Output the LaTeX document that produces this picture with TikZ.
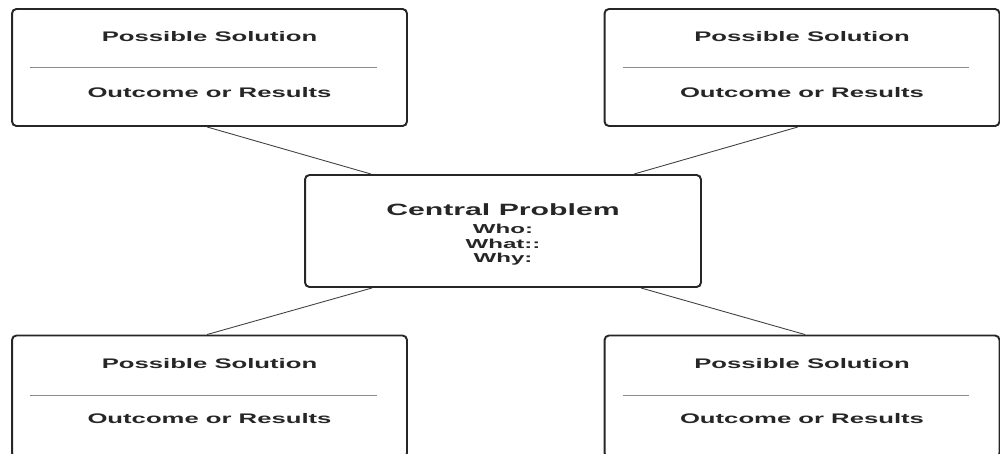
\documentclass[tikz,border=0pt]{standalone}
\usepackage{fontspec}
\setmainfont[FakeStretch=1.85]{Liberation Sans}
\usetikzlibrary{positioning}

\begin{document}
\begin{tikzpicture}[x=0.02cm,y=-0.02cm,
        solbox/.style={draw=black!85, line width=1.1pt, rounded corners=2.5pt, minimum width=7.9cm, minimum height=2.34cm, inner sep=0pt},
        lowbox/.style={solbox, minimum height=2.44cm},
        probbox/.style={solbox, minimum width=7.92cm, minimum height=2.24cm},
        probtext/.style={align=center, text=black!85, inner sep=0pt, font=\bfseries\fontsize{7.4}{8.4}\selectfont},
        boxtext/.style={text=black!85, font=\bfseries\fontsize{7.9}{9}\selectfont, inner sep=1pt},
        divider/.style={draw=black!45, line width=0.5pt},
        link/.style={draw=black!75, line width=0.5pt}]
        \useasboundingbox (0,0) rectangle (1000,453);

        % four solution boxes (the lower ones run off the page)
        \node[solbox] (box1) at (209.5,67.5) {};
        \node[solbox] (box2) at (802,67.5) {};
        \node[lowbox] (box3) at (209.5,396.5) {};
        \node[lowbox] (box4) at (802,396.5) {};

        \draw[divider] ([xshift=0.38cm]box1.west) -- ([xshift=-0.62cm]box1.east);
        \draw[divider] ([xshift=0.38cm]box2.west) -- ([xshift=-0.62cm]box2.east);
        \draw[divider] ([xshift=0.38cm,yshift=0.03cm]box3.west) -- ([xshift=-0.62cm,yshift=0.03cm]box3.east);
        \draw[divider] ([xshift=0.38cm,yshift=0.03cm]box4.west) -- ([xshift=-0.62cm,yshift=0.03cm]box4.east);

        \node[boxtext] (sol1) at ([yshift=0.61cm]box1.center) {Possible Solution};
        \node[boxtext] (res1) at ([yshift=-0.51cm]box1.center) {Outcome or Results};
        \node[boxtext] (sol2) at ([yshift=0.61cm]box2.center) {Possible Solution};
        \node[boxtext] (res2) at ([yshift=-0.51cm]box2.center) {Outcome or Results};
        \node[boxtext] (sol3) at ([yshift=0.65cm]box3.center) {Possible Solution};
        \node[boxtext] (res3) at ([yshift=-0.45cm]box3.center) {Outcome or Results};
        \node[boxtext] (sol4) at ([yshift=0.65cm]box4.center) {Possible Solution};
        \node[boxtext] (res4) at ([yshift=-0.45cm]box4.center) {Outcome or Results};

        % central problem
        \node[probbox] (prob) at (503,231) {};
        \node[probtext] (probtxt) at ([yshift=-0.07cm]prob.center) {{\fontsize{9.3}{11}\selectfont Central Problem}\\[0.07cm] Who:\\ What::\\ Why:};

        \draw[link] ([xshift=-0.05cm]box1.south) -- ([xshift=1.34cm]prob.north west);
        \draw[link] ([xshift=-0.08cm]box2.south) -- ([xshift=-1.36cm]prob.north east);
        \draw[link] ([xshift=-0.05cm]box3.north) -- ([xshift=1.36cm]prob.south west);
        \draw[link] ([xshift=0.06cm]box4.north) -- ([xshift=-1.22cm]prob.south east);
    \end{tikzpicture}
\end{document}
